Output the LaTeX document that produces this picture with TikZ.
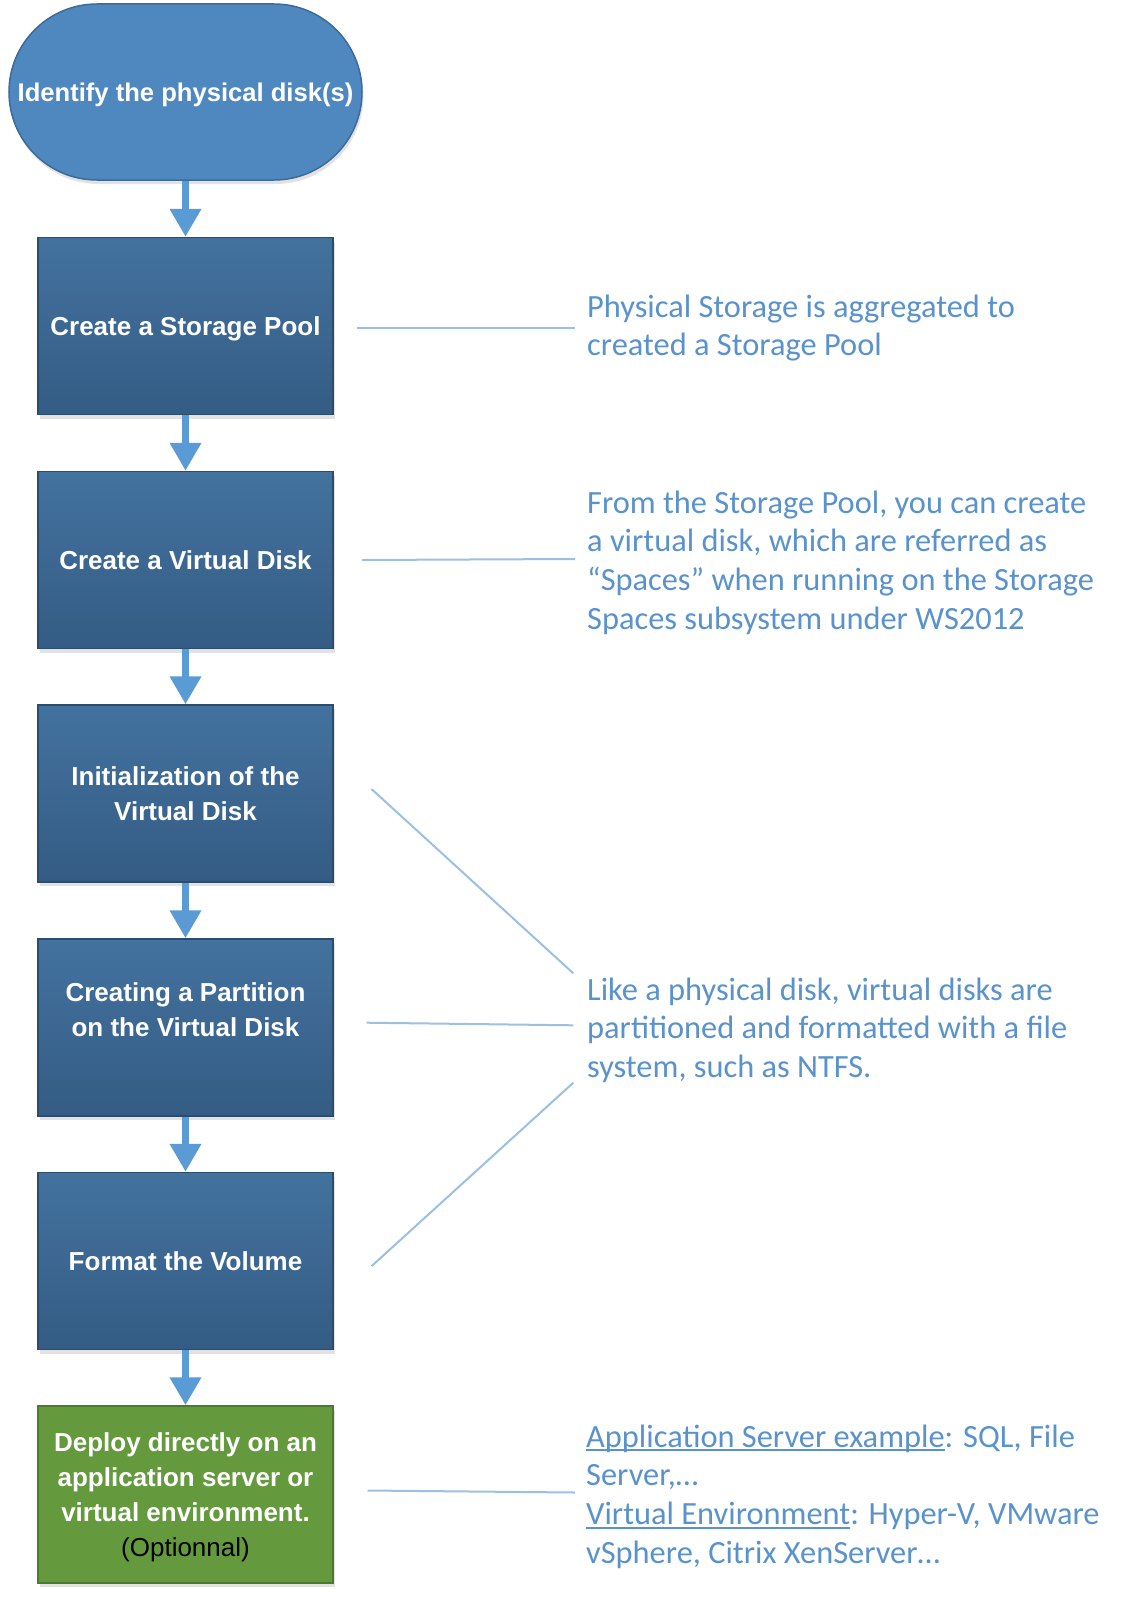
\documentclass[tikz,border=0pt]{standalone}
\usepackage{fontspec}
\setmainfont{Liberation Sans}
\newfontfamily\notefont{Carlito}
\usetikzlibrary{arrows.meta,shadows}
\definecolor{arrowblue}{HTML}{5B9BD5}
\definecolor{termfill}{HTML}{4F87BF}
\definecolor{termedge}{HTML}{3C6B99}
\definecolor{boxtop}{HTML}{43729F}
\definecolor{boxbot}{HTML}{345C84}
\definecolor{boxedge}{HTML}{2C4C6C}
\definecolor{greenfill}{HTML}{649A3D}
\definecolor{greenedge}{HTML}{4B7A2D}
\definecolor{noteblue}{HTML}{5A92CC}
\definecolor{lineblue}{HTML}{9CC0E2}
\newcommand\ulword[1]{\setbox0\hbox{#1}\rlap{\rule[-3.8pt]{\wd0}{1.6pt}}\box0}
\tikzset{
  softshadow/.style={drop shadow={shadow xshift=1.5pt,shadow yshift=-4pt,opacity=0.16,fill=black!70}},
  termbox/.style={rectangle, rounded corners=88pt, draw=termedge, line width=1.5pt, fill=termfill,
    minimum width=353pt, minimum height=176pt, inner sep=0pt, text=white, text depth=0pt,
    font=\bfseries\fontsize{25.6}{30}\selectfont, softshadow},
  flowbox/.style={rectangle, draw=boxedge, line width=1.5pt, top color=boxtop, bottom color=boxbot,
    minimum width=295pt, minimum height=177pt, inner sep=0pt, text=white, align=center, text depth=0pt,
    font=\bfseries\fontsize{26}{35}\selectfont, softshadow},
  greenbox/.style={flowbox, top color=greenfill, bottom color=greenfill, draw=greenedge},
  flowarrow/.style={draw=arrowblue, line width=7pt, -{Triangle[width=30pt,length=28pt]}},
  noteline/.style={draw=lineblue, line width=2pt},
  notetext/.style={anchor=base west, inner sep=0pt, text=noteblue,
    font=\notefont\fontsize{32.4}{38.9}\selectfont}
}
\begin{document}
\begin{tikzpicture}[x=1pt,y=-1pt]
\useasboundingbox (0,0) rectangle (1125,1600);
\fill[white] (0,0) rectangle (1125,1600);

% flow nodes
\node[termbox] (t) at (185.5,92) {Identify the physical disk(s)};
\node[flowbox] (b1) at (185.5,326) {Create a Storage Pool};
\node[flowbox] (b2) at (185.5,560) {Create a Virtual Disk};
\node[flowbox] (b3) at (185.5,793.5) {Initialization of the\\Virtual Disk};
\node[flowbox] (b4) at (185.5,1027.5) {Creating a Partition\\on the Virtual Disk\\\mbox{}};
\node[flowbox] (b5) at (185.5,1261) {Format the Volume};
\node[greenbox] (b6) at (185.5,1494.5) {Deploy directly on an\\application server or\\virtual environment.\\\textcolor{black}{\mdseries(Optionnal)}};

% arrows
\draw[flowarrow] (t.south) -- (b1.north);
\draw[flowarrow] (b1.south) -- (b2.north);
\draw[flowarrow] (b2.south) -- (b3.north);
\draw[flowarrow] (b3.south) -- (b4.north);
\draw[flowarrow] (b4.south) -- (b5.north);
\draw[flowarrow] (b5.south) -- (b6.north);

% notes
\node[notetext] (n1) at (587,317) {\vtop{\hbox{Physical Storage is aggregated to}\hbox{created a Storage Pool}}};
\node[notetext] (n2) at (587,513) {\vtop{\hbox{From the Storage Pool, you can create}\hbox{a virtual disk, which are referred as}\hbox{“Spaces” when running on the Storage}\hbox{Spaces subsystem under WS2012}}};
\node[notetext] (n3) at (587,1000) {\vtop{\hbox{Like a physical disk, virtual disks are}\hbox{partitioned and formatted with a file}\hbox{system, such as NTFS.}}};
\node[notetext] (n4) at (586,1447) {\vtop{\hbox{\ulword{Application Server example}: SQL, File}\hbox{Server,…}\hbox{\ulword{Virtual Environment}: Hyper-V, VMware}\hbox{vSphere, Citrix XenServer…}}};

% connector end points
\coordinate (l1a) at (357,328);   \coordinate (l1b) at (575,328);
\coordinate (l2a) at (362,560);   \coordinate (l2b) at (575,559);
\coordinate (l3a) at (371.5,789); \coordinate (l3b) at (573.3,973.3);
\coordinate (l4a) at (366.7,1022.7);\coordinate (l4b) at (573.3,1025.3);
\coordinate (l5a) at (371.7,1266);\coordinate (l5b) at (573.3,1082.7);
\coordinate (l6a) at (367.5,1490.5);\coordinate (l6b) at (575,1492.5);

\draw[noteline] (l1a) -- (l1b);
\draw[noteline] (l2a) -- (l2b);
\draw[noteline] (l3a) -- (l3b);
\draw[noteline] (l4a) -- (l4b);
\draw[noteline] (l5a) -- (l5b);
\draw[noteline] (l6a) -- (l6b);
\end{tikzpicture}
\end{document}
